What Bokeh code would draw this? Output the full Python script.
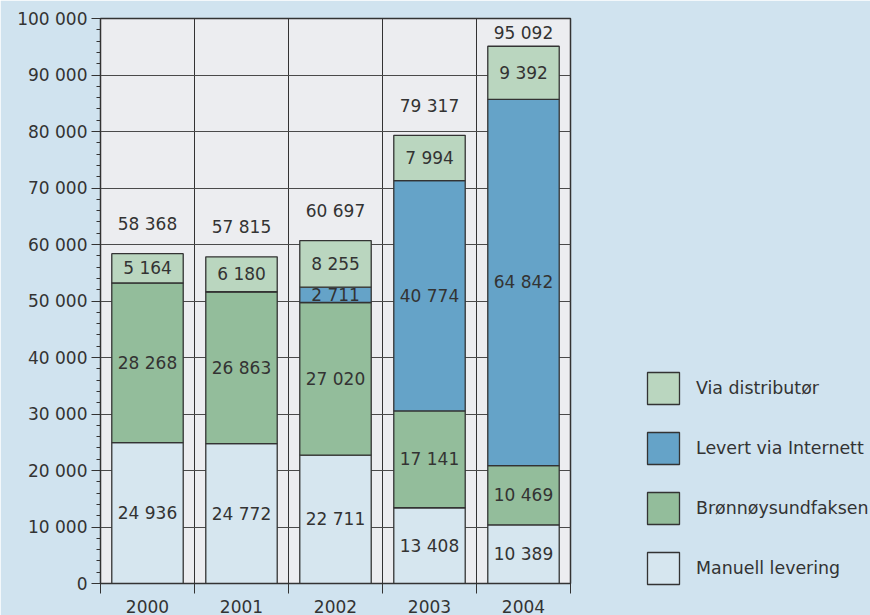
from bokeh.plotting import figure
from bokeh.models import Range1d, FixedTicker, Legend, LegendItem, ColumnDataSource
from bokeh.core.properties import value
from bokeh.embed import file_html
from bokeh.resources import INLINE

years = ["2000", "2001", "2002", "2003", "2004"]
manuell = [24936, 24772, 22711, 13408, 10389]
faks = [28268, 26863, 27020, 17141, 10469]
internett = [0, 0, 2711, 40774, 64842]
distributor = [5164, 6180, 8255, 7994, 9392]
series_names = ["Manuell levering", "Brønnøysundfaksen", "Levert via Internett", "Via distributør"]
colors = ["#d6e6ef", "#93bd9b", "#65a3c8", "#bad6bf"]
y_ticks = list(range(0, 100001, 10000))
y_minor = list(range(0, 100001, 2000))

FONT = "DejaVu Sans"
TXT = "#333333"

def fmt(v):
    return f"{v:,}".replace(",", " ")

xs = [i + 0.5 for i in range(len(years))]
series = [manuell, faks, internett, distributor]
keys = ["s0", "s1", "s2", "s3"]
data = {"x": xs}
for k, s in zip(keys, series):
    data[k] = s
source = ColumnDataSource(data)

p = figure(frame_width=470, frame_height=565, output_backend="svg", toolbar_location=None,
           x_range=Range1d(0, 5), y_range=Range1d(0, 100000),
           min_border_left=100, min_border_right=300, min_border_top=18, min_border_bottom=32,
           background_fill_color="#ecedf0", border_fill_color="#d0e3ef")
p.outline_line_color = "#333333"
p.outline_line_width = 1.5

renderers = p.vbar_stack(keys, x="x", width=0.76, source=source,
                         fill_color=colors, line_color="#333333", line_width=1.3)

# segment labels
lx, ly, lt = [], [], []
for i in range(len(years)):
    base = 0
    for s in series:
        v = s[i]
        if v > 0:
            lx.append(xs[i]); ly.append(base + v / 2); lt.append(fmt(v))
        base += v
totals = [sum(s[i] for s in series) for i in range(len(years))]
for i, t in enumerate(totals):
    lx.append(xs[i]); ly.append(min(t + 5200, 97500)); lt.append(fmt(t))
p.text(x=lx, y=ly, text=lt, text_align="center", text_baseline="middle",
       text_font=value(FONT), text_font_size="17px", text_color=TXT)

# axes
p.yaxis.ticker = FixedTicker(ticks=y_ticks, minor_ticks=y_minor)
p.yaxis.major_label_overrides = {t: fmt(t) for t in y_ticks}
p.yaxis.major_tick_out = 9
p.yaxis.major_tick_in = 0
p.yaxis.minor_tick_out = 4
p.yaxis.minor_tick_in = 0
p.yaxis.major_label_standoff = 4
p.xaxis.ticker = FixedTicker(ticks=xs, minor_ticks=[0, 1, 2, 3, 4, 5])
p.xaxis.major_label_overrides = {x: y for x, y in zip(xs, years)}
p.xaxis.major_tick_out = 0
p.xaxis.major_tick_in = 0
p.xaxis.minor_tick_out = 10
p.xaxis.minor_tick_in = 0
p.xaxis.major_label_standoff = 6
for ax in (p.xaxis, p.yaxis):
    ax.axis_line_color = "#333333"
    ax.major_tick_line_color = "#333333"
    ax.minor_tick_line_color = "#333333"
    ax.major_label_text_font = FONT
    ax.major_label_text_font_size = "17px"
    ax.major_label_text_color = TXT

p.ygrid.ticker = FixedTicker(ticks=y_ticks)
p.ygrid.grid_line_color = "#4a4a4a"
p.ygrid.grid_line_width = 1
p.xgrid.ticker = FixedTicker(ticks=[1, 2, 3, 4])
p.xgrid.grid_line_color = "#333333"
p.xgrid.grid_line_width = 1

items = [LegendItem(label=series_names[k], renderers=[renderers[k]]) for k in (3, 2, 1, 0)]
legend = Legend(items=items, location=(73, -5), glyph_width=40, glyph_height=40,
                spacing=20, label_standoff=13, padding=0, margin=0,
                border_line_alpha=0, background_fill_alpha=0,
                label_text_font=FONT, label_text_font_size="17.4px", label_text_color=TXT)
p.add_layout(legend, "right")

open("out.html", "w").write(file_html(p, INLINE))
